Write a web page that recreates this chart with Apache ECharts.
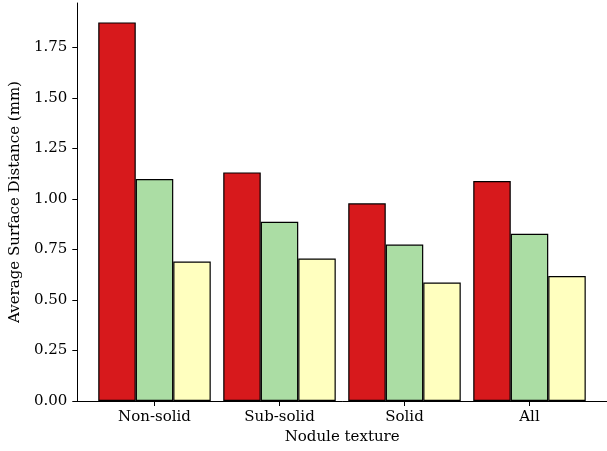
<!DOCTYPE html>
<html>
<head>
<meta charset="utf-8">
<script src="https://cdn.jsdelivr.net/npm/echarts@6/dist/echarts.min.js"></script>
<style>html,body{margin:0;padding:0;background:#fff;}#c{width:607px;height:451px;}</style>
</head>
<body>
<div id="c"></div>
<script>
const categories = ['Non-solid', 'Sub-solid', 'Solid', 'All'];
const seriesA = [1.873, 1.131, 0.978, 1.088];
const seriesB = [1.098, 0.887, 0.774, 0.827];
const seriesC = [0.690, 0.705, 0.586, 0.618];
const yTicks = [0, 0.25, 0.5, 0.75, 1.0, 1.25, 1.5, 1.75];
const colors = ['#d7191c', '#abdda4', '#ffffbf'];

const font = 'DejaVu Serif';
const fs = 15;
const yMax = 1.969;
const chart = echarts.init(document.getElementById('c'), null, {renderer: 'canvas'});
function mk(vals, color) {
  return {
    type: 'bar',
    xAxisIndex: 0, yAxisIndex: 0,
    data: vals,
    barGap: '0%',
    barCategoryGap: '10%',
    itemStyle: {color: color, borderColor: '#000', borderWidth: 1.2},
    silent: true
  };
}
chart.setOption({
  animation: false,
  grid: [
    {left: 92, top: 3, width: 500, height: 398, containLabel: false},
    {left: 73, top: 3, width: 536, height: 398, containLabel: false}
  ],
  xAxis: [
    {
      type: 'category', gridIndex: 0,
      data: categories,
      boundaryGap: true,
      axisLine: {show: false},
      axisTick: {show: true, alignWithLabel: true, length: 5, lineStyle: {color: '#000', width: 1}},
      axisLabel: {fontFamily: font, fontSize: fs, color: '#000', margin: 9},
      splitLine: {show: false}
    },
    {
      type: 'value', gridIndex: 1, min: 0, max: 1,
      name: 'Nodule texture',
      nameLocation: 'middle',
      nameGap: 29,
      nameTextStyle: {fontFamily: font, fontSize: fs, color: '#000'},
      axisLine: {show: true, onZero: false, lineStyle: {color: '#000', width: 1}},
      axisTick: {show: false},
      axisLabel: {show: false},
      splitLine: {show: false}
    }
  ],
  yAxis: [
    {
      type: 'value', gridIndex: 0, min: 0, max: yMax,
      axisLine: {show: false}, axisTick: {show: false}, axisLabel: {show: false}, splitLine: {show: false}
    },
    {
      type: 'value', gridIndex: 1, min: 0, max: yMax,
      name: 'Average Surface Distance (mm)',
      nameLocation: 'middle',
      nameGap: 50,
      nameTextStyle: {fontFamily: font, fontSize: fs, color: '#000'},
      axisLine: {show: true, onZero: false, lineStyle: {color: '#000', width: 1}},
      axisTick: {show: true, length: 5, customValues: yTicks, lineStyle: {color: '#000', width: 1}},
      axisLabel: {customValues: yTicks, formatter: v => v.toFixed(2), fontFamily: font, fontSize: fs, color: '#000', margin: 10},
      splitLine: {show: false}
    }
  ],
  series: [mk(seriesA, colors[0]), mk(seriesB, colors[1]), mk(seriesC, colors[2])]
});
</script>
</body>
</html>
